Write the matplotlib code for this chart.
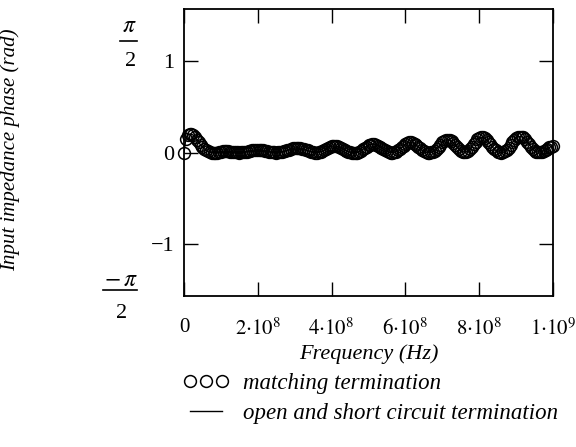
import numpy as np
import matplotlib
matplotlib.use('Agg')
import matplotlib.pyplot as plt
from matplotlib.lines import Line2D

plt.rcParams['font.family'] = 'Liberation Serif'
plt.rcParams['mathtext.fontset'] = 'stix'

# input impedance phase (rad), sampled every 5 MHz from 0 to 1 GHz
phase_matched = [
    0.000, 0.150, 0.190, 0.200, 0.200, 0.190, 0.170, 0.140, 0.110, 0.082,
    0.060, 0.040, 0.025, 0.013, 0.005, -0.002, -0.005, -0.004, 0.000, 0.005,
    0.010, 0.014, 0.015, 0.014, 0.012, 0.009, 0.006, 0.004, 0.002, 0.001,
    0.000, 0.001, 0.003, 0.006, 0.010, 0.015, 0.020, 0.024, 0.027, 0.029,
    0.030, 0.030, 0.028, 0.024, 0.020, 0.015, 0.010, 0.006, 0.003, 0.001,
    0.000, 0.001, 0.003, 0.007, 0.012, 0.018, 0.025, 0.032, 0.040, 0.046,
    0.050, 0.051, 0.050, 0.047, 0.043, 0.037, 0.030, 0.022, 0.015, 0.008,
    0.003, 0.000, 0.000, 0.003, 0.008, 0.016, 0.025, 0.037, 0.050, 0.060,
    0.068, 0.071, 0.070, 0.066, 0.060, 0.052, 0.042, 0.031, 0.020, 0.010,
    0.003, -0.002, -0.005, -0.004, 0.000, 0.008, 0.020, 0.034, 0.050, 0.065,
    0.078, 0.086, 0.090, 0.089, 0.085, 0.076, 0.065, 0.052, 0.038, 0.024,
    0.012, 0.004, 0.000, -0.001, 0.002, 0.010, 0.022, 0.038, 0.055, 0.073,
    0.090, 0.102, 0.110, 0.110, 0.105, 0.094, 0.080, 0.063, 0.045, 0.028,
    0.015, 0.005, 0.000, -0.001, 0.002, 0.009, 0.020, 0.038, 0.060, 0.085,
    0.110, 0.128, 0.140, 0.141, 0.135, 0.122, 0.105, 0.083, 0.060, 0.038,
    0.020, 0.010, 0.005, 0.007, 0.015, 0.033, 0.060, 0.090, 0.120, 0.145,
    0.160, 0.166, 0.165, 0.155, 0.140, 0.117, 0.090, 0.064, 0.040, 0.022,
    0.010, 0.003, 0.000, 0.002, 0.012, 0.028, 0.050, 0.080, 0.110, 0.138,
    0.160, 0.172, 0.175, 0.173, 0.165, 0.146, 0.120, 0.092, 0.065, 0.040,
    0.020, 0.009, 0.005, 0.005, 0.010, 0.019, 0.030, 0.042, 0.055, 0.064,
    0.070,
]
# open and short circuit traces fall on top of the matched one
phase_open_short = list(phase_matched)
freq = np.linspace(0, 1e9, len(phase_matched))

xticks = [0, 2e8, 4e8, 6e8, 8e8, 1e9]
xticklabels = ['0', r'$2{\cdot}10^{8}$', r'$4{\cdot}10^{8}$',
               r'$6{\cdot}10^{8}$', r'$8{\cdot}10^{8}$', r'$1{\cdot}10^{9}$']
yticks = [-1, 0, 1]
yticklabels = ['\u22121', '0', '1']

fs = 16
fig = plt.figure(figsize=(5.76, 4.47), dpi=100)
W, H = 576, 447
ax = fig.add_axes([184 / W, 1 - 296 / H, 369 / W, 287 / H])

ax.plot(freq, phase_open_short, color='black', lw=1.0)
ax.plot(freq, phase_matched, ls='none', marker='o', ms=8.5, mfc='none',
        mec='black', mew=1.1, clip_on=False)

ax.set_xlim(0, 1e9)
ax.set_ylim(-np.pi / 2, np.pi / 2)
ax.set_xticks(xticks)
ax.set_xticklabels(xticklabels, fontsize=15)
ax.set_yticks(yticks)
ax.set_yticklabels(yticklabels, fontsize=fs)
ax.tick_params(direction='in', length=10, width=1.0, top=True, right=True,
               colors='black')
ax.tick_params(axis='x', pad=16)
ax.tick_params(axis='y', pad=7)
for sp in ax.spines.values():
    sp.set_linewidth(1.3)

ax.set_xlabel('Frequency (Hz)', fontsize=fs, style='italic', labelpad=3)
ax.set_ylabel('Input impedance phase (rad)', fontsize=15, style='italic')
ax.yaxis.set_label_coords(-0.445, 0.51)


def px(x, y):
    # figure pixel -> axes fraction
    return (x - 184) / 369, (296 - y) / 287


# pi/2 limit labels written as stacked fractions
def frac(num, x_num, y_num, x0, x1, y_bar, y_den):
    ax.text(*px(x_num, y_num), num, transform=ax.transAxes, fontsize=fs + 1,
            ha='center', va='center', clip_on=False)
    (a0, b), (a1, _) = px(x0, y_bar), px(x1, y_bar)
    ax.add_line(Line2D([a0, a1], [b, b], transform=ax.transAxes, color='black',
                       lw=1.2, clip_on=False))
    ax.text(*px((x0 + x1) / 2 + 2, y_den), '2', transform=ax.transAxes,
            fontsize=fs, ha='center', va='center', clip_on=False)


frac(r'$\pi$', 129, 27, 120, 137, 41, 62)
frac(r'$-\,\pi$', 121, 281, 103, 137, 290, 313)

handles = [
    Line2D([], [], ls='none', marker='o', ms=8.5, mfc='none', mec='black',
           mew=1.1),
    Line2D([], [], color='black', lw=1.0),
]
labels = ['matching termination', 'open and short circuit termination']
fig.legend(handles, labels, loc='upper left',
           bbox_to_anchor=(172 / W, 1 - 362 / H), frameon=False, numpoints=3,
           handlelength=2.0, handletextpad=0.6, labelspacing=0.36,
           borderpad=0, prop={'family': 'Liberation Serif', 'style': 'italic',
                              'size': 16.5})

fig.savefig('out.png', dpi=100)
